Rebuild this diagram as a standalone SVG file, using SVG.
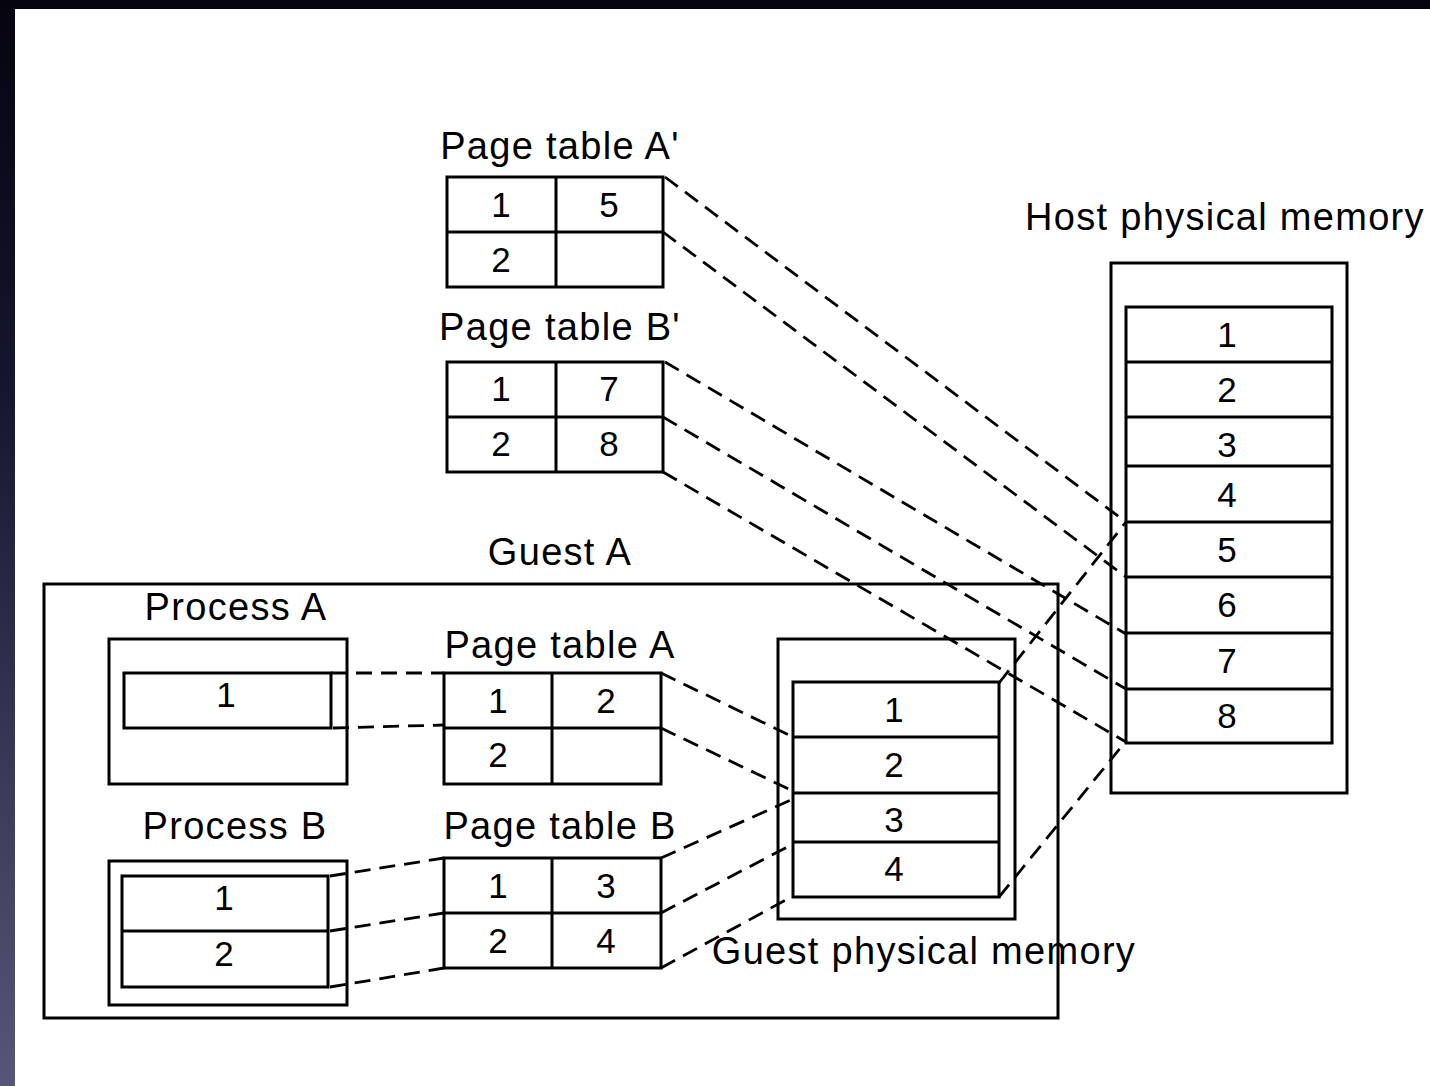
<svg xmlns="http://www.w3.org/2000/svg" width="1430" height="1086" viewBox="0 0 1430 1086">
  <defs>
    <linearGradient id="edgeShade" x1="0" y1="0" x2="0" y2="1">
      <stop offset="0" stop-color="#05040f"/>
      <stop offset="0.35" stop-color="#15152e"/>
      <stop offset="1" stop-color="#56567a"/>
    </linearGradient>
    <style>
      .box { fill: none; stroke: #000; stroke-width: 3; }
      .cell { fill: #fff; stroke: #000; stroke-width: 3; }
      .rule { stroke: #000; stroke-width: 3; }
      .label { font-family: "Liberation Sans", Arial, sans-serif; font-size: 38px; letter-spacing: 1.3px; fill: #000; text-anchor: middle; }
      .num { font-family: "Liberation Sans", Arial, sans-serif; font-size: 35px; fill: #000; text-anchor: middle; }
      .link { fill: none; stroke: #000; stroke-width: 2.8; stroke-dasharray: 16 9; }
    </style>
  </defs>

  <!-- slide background with dark frame edges -->
  <rect x="0" y="0" width="1430" height="1086" fill="#fff"/>
  <rect x="0" y="0" width="15" height="1086" fill="url(#edgeShade)"/>
  <rect x="0" y="0" width="1430" height="9" fill="#05040f"/>

  <!-- Page table A' -->
  <g id="page-table-a-prime">
    <text class="label" x="560" y="159">Page table A'</text>
    <rect class="cell" x="447" y="177" width="216" height="110"/>
    <line class="rule" x1="447" y1="232" x2="663" y2="232"/>
    <line class="rule" x1="556" y1="177" x2="556" y2="287"/>
    <text class="num" x="501" y="217">1</text>
    <text class="num" x="609" y="217">5</text>
    <text class="num" x="501" y="272">2</text>
  </g>

  <!-- Page table B' -->
  <g id="page-table-b-prime">
    <text class="label" x="560" y="340">Page table B'</text>
    <rect class="cell" x="447" y="362" width="216" height="110"/>
    <line class="rule" x1="447" y1="417" x2="663" y2="417"/>
    <line class="rule" x1="556" y1="362" x2="556" y2="472"/>
    <text class="num" x="501" y="401">1</text>
    <text class="num" x="609" y="401">7</text>
    <text class="num" x="501" y="456">2</text>
    <text class="num" x="609" y="456">8</text>
  </g>

  <!-- Host physical memory -->
  <g id="host-physical-memory">
    <text class="label" x="1225" y="230">Host physical memory</text>
    <rect class="box" x="1111" y="263" width="236" height="530"/>
    <rect class="cell" x="1126" y="307" width="206" height="436"/>
    <line class="rule" x1="1126" y1="362" x2="1332" y2="362"/>
    <line class="rule" x1="1126" y1="417" x2="1332" y2="417"/>
    <line class="rule" x1="1126" y1="466" x2="1332" y2="466"/>
    <line class="rule" x1="1126" y1="522" x2="1332" y2="522"/>
    <line class="rule" x1="1126" y1="577" x2="1332" y2="577"/>
    <line class="rule" x1="1126" y1="633" x2="1332" y2="633"/>
    <line class="rule" x1="1126" y1="689" x2="1332" y2="689"/>
    <text class="num" x="1227" y="347">1</text>
    <text class="num" x="1227" y="402">2</text>
    <text class="num" x="1227" y="457">3</text>
    <text class="num" x="1227" y="507">4</text>
    <text class="num" x="1227" y="562">5</text>
    <text class="num" x="1227" y="617">6</text>
    <text class="num" x="1227" y="673">7</text>
    <text class="num" x="1227" y="728">8</text>
  </g>

  <!-- Guest A container -->
  <g id="guest-a">
    <text class="label" x="560" y="565">Guest A</text>
    <rect class="box" x="44" y="584" width="1014" height="434"/>
  </g>

  <!-- Process A -->
  <g id="process-a">
    <text class="label" x="236" y="620">Process A</text>
    <rect class="box" x="109" y="639" width="238" height="145"/>
    <rect class="cell" x="124" y="673" width="207" height="55"/>
    <text class="num" x="226" y="707">1</text>
  </g>

  <!-- Process B -->
  <g id="process-b">
    <text class="label" x="235" y="839">Process B</text>
    <rect class="box" x="109" y="861" width="238" height="144"/>
    <rect class="cell" x="122" y="876" width="206" height="111"/>
    <line class="rule" x1="122" y1="931" x2="328" y2="931"/>
    <text class="num" x="224" y="910">1</text>
    <text class="num" x="224" y="966">2</text>
  </g>

  <!-- Page table A -->
  <g id="page-table-a">
    <text class="label" x="560" y="658">Page table A</text>
    <rect class="cell" x="444" y="673" width="217" height="111"/>
    <line class="rule" x1="444" y1="728" x2="661" y2="728"/>
    <line class="rule" x1="552" y1="673" x2="552" y2="784"/>
    <text class="num" x="498" y="713">1</text>
    <text class="num" x="606" y="713">2</text>
    <text class="num" x="498" y="767">2</text>
  </g>

  <!-- Page table B -->
  <g id="page-table-b">
    <text class="label" x="560" y="839">Page table B</text>
    <rect class="cell" x="444" y="858" width="217" height="110"/>
    <line class="rule" x1="444" y1="913" x2="661" y2="913"/>
    <line class="rule" x1="552" y1="858" x2="552" y2="968"/>
    <text class="num" x="498" y="898">1</text>
    <text class="num" x="606" y="898">3</text>
    <text class="num" x="498" y="953">2</text>
    <text class="num" x="606" y="953">4</text>
  </g>

  <!-- Guest physical memory -->
  <g id="guest-physical-memory">
    <rect class="box" x="778" y="639" width="237" height="280"/>
    <rect class="cell" x="793" y="682" width="206" height="215"/>
    <line class="rule" x1="793" y1="737" x2="999" y2="737"/>
    <line class="rule" x1="793" y1="793" x2="999" y2="793"/>
    <line class="rule" x1="793" y1="842" x2="999" y2="842"/>
    <text class="num" x="894" y="722">1</text>
    <text class="num" x="894" y="777">2</text>
    <text class="num" x="894" y="832">3</text>
    <text class="num" x="894" y="881">4</text>
    <text class="label" x="924" y="964">Guest physical memory</text>
  </g>

  <!-- dashed mapping connectors -->
  <g id="connectors">
    <!-- process pages to guest page tables -->
    <line class="link" x1="331" y1="673" x2="444" y2="673"/>
    <line class="link" x1="333" y1="728" x2="444" y2="725"/>
    <line class="link" x1="330" y1="876" x2="444" y2="858"/>
    <line class="link" x1="330" y1="931" x2="444" y2="913"/>
    <line class="link" x1="330" y1="987" x2="444" y2="968"/>
    <!-- guest page tables to guest physical memory -->
    <line class="link" x1="661" y1="673" x2="793" y2="737"/>
    <line class="link" x1="661" y1="728" x2="797" y2="793"/>
    <line class="link" x1="661" y1="858" x2="793" y2="799"/>
    <line class="link" x1="661" y1="913" x2="793" y2="844"/>
    <line class="link" x1="661" y1="968" x2="793" y2="896"/>
    <!-- guest physical memory to host physical memory -->
    <line class="link" x1="999" y1="683" x2="1126" y2="522"/>
    <line class="link" x1="999" y1="897" x2="1126" y2="741"/>
    <!-- shadow page tables to host physical memory -->
    <line class="link" x1="665" y1="177" x2="1126" y2="522"/>
    <line class="link" x1="663" y1="232" x2="1126" y2="577"/>
    <line class="link" x1="665" y1="362" x2="1126" y2="634"/>
    <line class="link" x1="663" y1="417" x2="1126" y2="689"/>
    <line class="link" x1="663" y1="472" x2="1126" y2="742"/>
  </g>
</svg>
